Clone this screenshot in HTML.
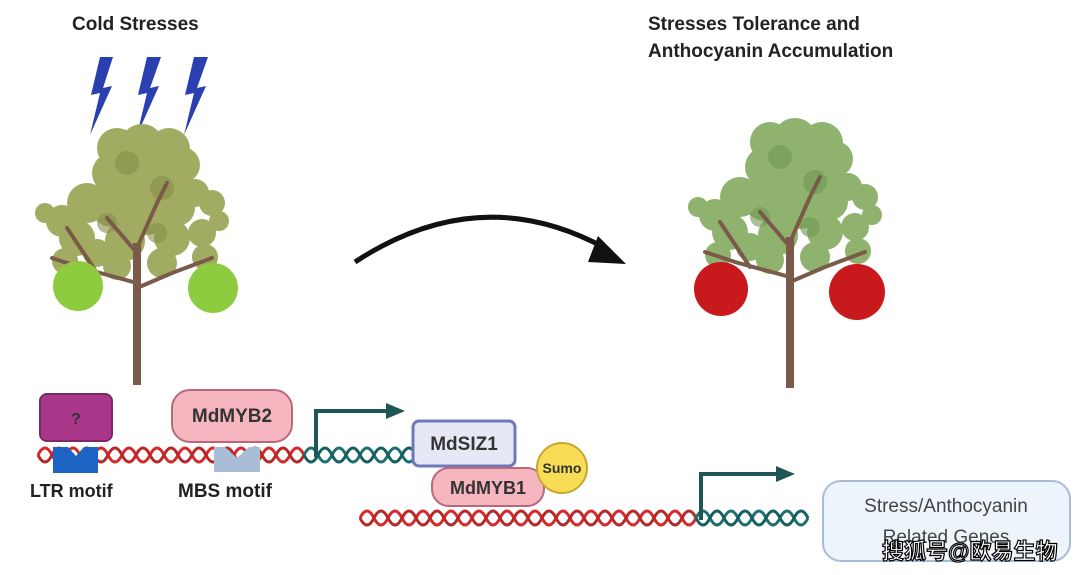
<!DOCTYPE html>
<html><head><meta charset="utf-8"><style>
body{margin:0;background:#fff;}
svg{display:block;font-family:"Liberation Sans",Arial,sans-serif;}
</style></head><body>
<svg width="1080" height="575" viewBox="0 0 1080 575">
<defs>
<g id="fol">
<circle cx="-20" cy="15" r="20"/><circle cx="5" cy="13" r="22"/><circle cx="32" cy="16" r="21"/>
<circle cx="45" cy="32" r="18"/><circle cx="-25" cy="40" r="20"/><circle cx="0" cy="42" r="26"/>
<circle cx="30" cy="45" r="22"/><circle cx="-50" cy="70" r="20"/><circle cx="-25" cy="72" r="22"/>
<circle cx="10" cy="80" r="22"/><circle cx="40" cy="75" r="18"/><circle cx="58" cy="60" r="14"/>
<circle cx="75" cy="70" r="13"/><circle cx="-75" cy="88" r="16"/><circle cx="-92" cy="80" r="10"/>
<circle cx="-60" cy="105" r="18"/><circle cx="-12" cy="108" r="20"/><circle cx="35" cy="105" r="18"/>
<circle cx="65" cy="100" r="14"/><circle cx="82" cy="88" r="10"/><circle cx="-72" cy="128" r="13"/>
<circle cx="25" cy="130" r="15"/><circle cx="-20" cy="133" r="14"/><circle cx="68" cy="124" r="13"/>
<circle cx="-40" cy="120" r="14"/>
</g>
<path id="br" d="M0,150 L-55,135 L-85,125 M0,155 L35,140 L75,125 M0,120 L-30,85 M0,115 L20,70 L30,50 M-40,140 L-70,95" fill="none" stroke-linecap="round"/>
</defs>
<text x="72" y="30" font-size="19" font-weight="bold" fill="#222">Cold Stresses</text>
<text x="648" y="30" font-size="19" font-weight="bold" fill="#222">Stresses Tolerance and</text>
<text x="648" y="57" font-size="19" font-weight="bold" fill="#222">Anthocyanin Accumulation</text>
<g fill="#2a3fb0">
<path d="M100,57 L91,95 L100,93 L90,135 L112,86 L103,88 L113,57Z"/>
<path d="M147,57 L138,95 L147,93 L137,135 L159,86 L150,88 L161,57Z"/>
<path d="M194,57 L185,95 L194,93 L184,135 L206,86 L197,88 L208,57Z"/>
</g>
<g transform="translate(137,133)">
<use href="#fol" fill="#a2ab62"/>
<g fill="#868f48" opacity="0.6"><circle cx="-10" cy="30" r="12"/><circle cx="25" cy="55" r="12"/><circle cx="-30" cy="90" r="10"/><circle cx="20" cy="100" r="10"/></g>
<use href="#br" stroke="#7a5a48" stroke-width="4"/>
<path d="M0,252 L0,110" stroke="#7a5a48" stroke-width="8"/>
</g>
<circle cx="78" cy="286" r="25" fill="#8ccc3e"/><circle cx="213" cy="288" r="25" fill="#8ccc3e"/>
<g transform="translate(790,127)">
<use href="#fol" fill="#8fb36e"/>
<g fill="#6f9a55" opacity="0.6"><circle cx="-10" cy="30" r="12"/><circle cx="25" cy="55" r="12"/><circle cx="-30" cy="90" r="10"/><circle cx="20" cy="100" r="10"/></g>
<use href="#br" stroke="#7a5a48" stroke-width="4"/>
<path d="M0,261 L0,110" stroke="#7a5a48" stroke-width="8"/>
</g>
<circle cx="721" cy="289" r="27" fill="#c8191c"/><circle cx="857" cy="292" r="28" fill="#c8191c"/>
<path d="M355,262 Q480,180 605,248" stroke="#111" stroke-width="5" fill="none"/>
<path d="M598,236 L626,264 L588,262Z" fill="#111"/>
<g fill="none" stroke-width="3">
<path d="M38,455 q7,-14 14,0 t14,0 t14,0 t14,0 t14,0 t14,0 t14,0 t14,0 t14,0 t14,0 t14,0 t14,0 t14,0 t14,0 t14,0 t14,0 t14,0 t14,0 t14,0" stroke="#d62a2a"/>
<path d="M38,455 q7,14 14,0 t14,0 t14,0 t14,0 t14,0 t14,0 t14,0 t14,0 t14,0 t14,0 t14,0 t14,0 t14,0 t14,0 t14,0 t14,0 t14,0 t14,0 t14,0" stroke="#b82828"/>
<path d="M304,455 q7,-14 14,0 t14,0 t14,0 t14,0 t14,0 t14,0 t14,0 t14,0" stroke="#1e7070"/>
<path d="M304,455 q7,14 14,0 t14,0 t14,0 t14,0 t14,0 t14,0 t14,0 t14,0" stroke="#155f60"/>
<path d="M360,518 q7,-14 14,0 t14,0 t14,0 t14,0 t14,0 t14,0 t14,0 t14,0 t14,0 t14,0 t14,0 t14,0 t14,0 t14,0 t14,0 t14,0 t14,0 t14,0 t14,0 t14,0 t14,0 t14,0 t14,0 t14,0" stroke="#d62a2a"/>
<path d="M360,518 q7,14 14,0 t14,0 t14,0 t14,0 t14,0 t14,0 t14,0 t14,0 t14,0 t14,0 t14,0 t14,0 t14,0 t14,0 t14,0 t14,0 t14,0 t14,0 t14,0 t14,0 t14,0 t14,0 t14,0 t14,0" stroke="#b82828"/>
<path d="M696,518 q7,-14 14,0 t14,0 t14,0 t14,0 t14,0 t14,0 t14,0 t14,0" stroke="#1e7070"/>
<path d="M696,518 q7,14 14,0 t14,0 t14,0 t14,0 t14,0 t14,0 t14,0 t14,0" stroke="#155f60"/>
</g>
<path d="M316,457 L316,411 L388,411" stroke="#1f5555" stroke-width="4" fill="none"/>
<path d="M386,403 L405,411 L386,419Z" fill="#1f5555"/>
<path d="M701,520 L701,474 L778,474" stroke="#1f5555" stroke-width="4" fill="none"/>
<path d="M776,466 L795,474 L776,482Z" fill="#1f5555"/>
<rect x="40" y="394" width="72" height="47" rx="7" fill="#a8378a" stroke="#7a2a66" stroke-width="2"/>
<text x="76" y="424" font-size="16" font-weight="bold" fill="#333" text-anchor="middle">?</text>
<path d="M53,447 L98,447 L98,473 L53,473Z M68,447 L76,456 L84,447Z" fill="#1c63c4" fill-rule="evenodd"/>
<text x="30" y="497" font-size="18" font-weight="bold" fill="#222">LTR motif</text>
<rect x="172" y="390" width="120" height="52" rx="18" fill="#f5b6c0" stroke="#b86a7a" stroke-width="2"/>
<text x="232" y="422" font-size="19" font-weight="bold" fill="#333" text-anchor="middle">MdMYB2</text>
<path d="M214,447 L260,447 L260,472 L214,472Z M225,447 L237,458 L249,447Z" fill="#a9bdd6" fill-rule="evenodd"/>
<text x="178" y="497" font-size="19" font-weight="bold" fill="#222">MBS motif</text>
<rect x="413" y="421" width="102" height="45" rx="6" fill="#e6e8f6" stroke="#6f78b8" stroke-width="3"/>
<text x="464" y="450" font-size="19" font-weight="bold" fill="#333" text-anchor="middle">MdSIZ1</text>
<rect x="432" y="468" width="112" height="38" rx="17" fill="#f5b6c0" stroke="#b86a7a" stroke-width="2"/>
<text x="488" y="494" font-size="18" font-weight="bold" fill="#333" text-anchor="middle">MdMYB1</text>
<circle cx="562" cy="468" r="25" fill="#f7dc56" stroke="#c8a630" stroke-width="2"/>
<text x="562" y="473" font-size="14" font-weight="bold" fill="#333" text-anchor="middle">Sumo</text>
<rect x="823" y="481" width="247" height="80" rx="18" fill="#eef4fb" stroke="#a8bcd6" stroke-width="2"/>
<text x="946" y="512" font-size="19" fill="#444" text-anchor="middle">Stress/Anthocyanin</text>
<text x="946" y="543" font-size="19" fill="#444" text-anchor="middle">Related Genes</text>
<text x="882" y="559" font-size="22" font-weight="bold" fill="#fff" stroke="#000" stroke-width="1.2" font-family="'Liberation Sans','Noto Sans CJK SC',sans-serif">搜狐号@欧易生物</text>
</svg>
</body></html>
